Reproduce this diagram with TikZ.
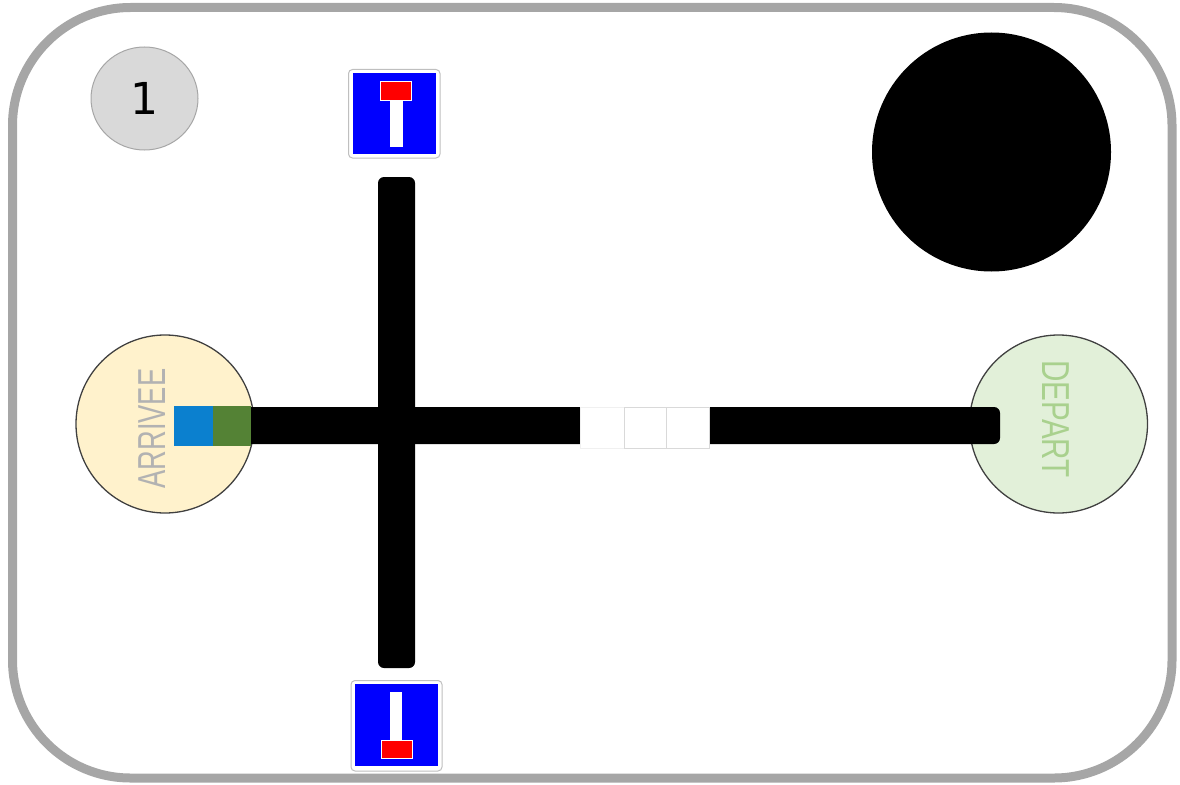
\documentclass[tikz,border=0pt]{standalone}
\usepackage{fontspec}
\setmainfont{Liberation Sans}
\newfontfamily\numfont{DejaVu Sans}
\usetikzlibrary{positioning,shapes.geometric}
\definecolor{Frame}{HTML}{A6A6A6}
\definecolor{Cream}{HTML}{FFF2CC}
\definecolor{Pale}{HTML}{E2F0D9}
\definecolor{Leaf}{HTML}{A9D18E}
\definecolor{Chip}{HTML}{0B80CF}
\definecolor{Moss}{HTML}{548235}
\tikzset{
  roundel/.style={circle,draw=black!75,line width=1.3pt,inner sep=0pt},
  road/.style={fill=black,rounded corners=6pt},
  gap/.style={fill=white,line width=.8pt},
  sideword/.style={inner sep=0pt,transform shape,font=\fontsize{39}{39}\selectfont},
  signbase/.style={fill=white,draw=black!25,line width=1pt,rounded corners=4pt},
}

\begin{document}
\begin{tikzpicture}[x=1pt,y=-1pt]
    \useasboundingbox (0,0) rectangle (1180,784);
    \draw[Frame,line width=9pt,rounded corners=118pt] (12.5,7.5) rectangle (1172,778);
    % badge and black disc
    \node[ellipse,fill=black!15,draw=Frame,line width=1pt,minimum width=107pt,minimum height=103pt,inner sep=0pt,
      font=\numfont\fontsize{44}{44}\selectfont] (badge) at (144.5,98.5) {\raisebox{-2pt}{1}};
    \node[circle,fill=black,minimum size=239pt,inner sep=0pt] (disc) at (991.5,152) {};
    % ends
    \node[roundel,fill=Cream,minimum size=178pt] (arrivee) at (165,424) {};
    \node[roundel,fill=Pale,minimum size=178pt] (depart) at (1058.5,424) {};
    \node[sideword,text=black!30,rotate=90,xscale=.7] (arrlabel) at (152.5,428.5) {ARRIVEE};
    \node[sideword,text=Leaf,rotate=-90,xscale=.76] (deplabel) at (1056,419) {DEPART};
    % roads
    \fill[road] (240,407) rectangle (1000,444);
    \fill[road] (378,177) rectangle (415,668);
    \fill[Chip] (174,406) rectangle (213,446);
    \fill[Moss] (213,406) rectangle (251,446);
    \foreach \xa/\xb/\shade in {580/624/6,624/666.5/15,666.5/709/15}
      \filldraw[gap,draw=black!\shade] (\xa,407) rectangle (\xb,448);
    % top sign
    \filldraw[signbase] (348.5,69.5) rectangle (440,158);
    \fill[blue] (353,73) rectangle (436,154);
    \fill[white] (390,100) rectangle (403,147);
    \filldraw[red,draw=white,line width=1pt] (380,81) rectangle (411,100);
    % bottom sign
    \filldraw[signbase] (351,680.5) rectangle (442,771);
    \fill[blue] (355,684) rectangle (438,766);
    \fill[white] (390,692) rectangle (402,741);
    \filldraw[red,draw=white,line width=1pt] (381,740) rectangle (412,758);
  \end{tikzpicture}
\end{document}
